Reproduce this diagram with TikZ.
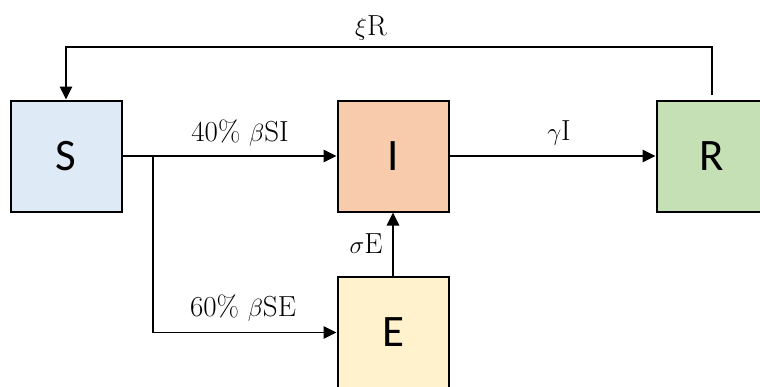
\documentclass[tikz,border=0pt]{standalone}
\usepackage{fontspec}
\newfontfamily\boxfont{Carlito}
\usetikzlibrary{arrows.meta}
\definecolor{sblue}{HTML}{DEEBF7}
\definecolor{iorange}{HTML}{F8CBAD}
\definecolor{rgreen}{HTML}{C5E0B4}
\definecolor{eyellow}{HTML}{FFF2CC}
\begin{document}
\begin{tikzpicture}[x=1pt,y=-1pt,
  compartment/.style={draw=black,line width=2pt,minimum width=111pt,minimum height=111pt,inner sep=0pt,
    font=\boxfont\fontsize{45}{45}\selectfont},
  arr/.style={line width=1.4pt,-{Triangle[length=13pt,width=12.5pt]}},
  flow/.style={anchor=base,inner sep=0pt,font=\fontsize{29}{34}\selectfont}]
\useasboundingbox (0,0) rectangle (760,386);
% compartments
\node[compartment,fill=sblue] (S) at (66,156) {S};
\node[compartment,fill=iorange] (I) at (393,156) {I};
\node[compartment,fill=rgreen] (R) at (712,156) {R};
\node[compartment,fill=eyellow,anchor=north] (E) at (393,276) {E};
% helper points
\coordinate (split) at (153,156);
\coordinate (Rtop) at (712,95);
\coordinate (toprow) at (0,47);
% transitions
\draw[arr] (S.east) -- (I.west);
\draw[arr] (split) |- (E.west);
\draw[arr] (E.north) -- (I.south);
\draw[arr] (I.east) -- (R.west);
\draw[arr] (Rtop) -- (Rtop |- toprow) -| (S.north);
% rates
\node[flow] (lxi) at (371,35) {$\xi$R};
\node[flow] (lsi) at (240,141.5) {40\% $\beta$SI};
\node[flow] (lgi) at (559,140) {$\gamma$I};
\node[flow] (lse) at (366,253) {$\sigma$E};
\node[flow] (lbe) at (243,316.5) {60\% $\beta$SE};
\end{tikzpicture}
\end{document}
